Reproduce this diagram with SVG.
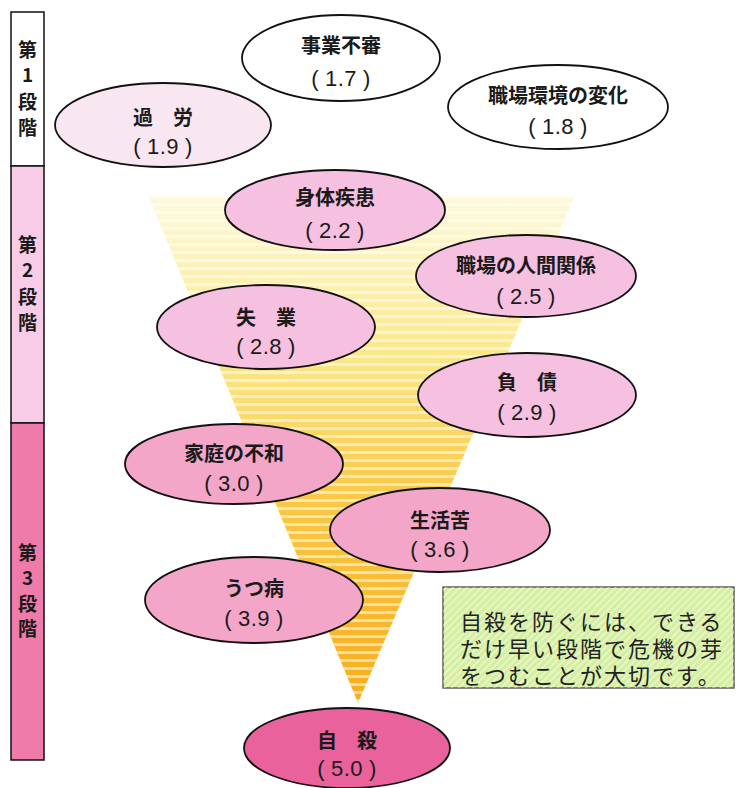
<svg xmlns="http://www.w3.org/2000/svg" width="738" height="788" viewBox="0 0 738 788">
<style>
.t{font-family:"Noto Sans CJK JP","Noto Sans",sans-serif;text-anchor:middle;fill:#1a1a1a}
.lb{font-size:20px;font-weight:700}
.nm{font-family:"Liberation Sans",Arial,sans-serif;font-size:22px;font-weight:400;letter-spacing:0.5px}
.st{font-size:19px;font-weight:700}
.bx{font-family:"Noto Sans CJK JP","Noto Sans",sans-serif;font-size:22px;letter-spacing:2px;fill:#222}
.el{stroke:#111;stroke-width:1.8}
.w{fill:#ffffff}
.p0{fill:#f8e6f1}
.p1{fill:#f6c0e0}
.p2{fill:#f4a6c9}
.p3{fill:#e9629c}
</style>
<defs>
<linearGradient id="fg" x1="0" y1="195" x2="0" y2="703" gradientUnits="userSpaceOnUse">
<stop offset="0" stop-color="#fef9df"/>
<stop offset="0.3" stop-color="#fce88e"/>
<stop offset="0.6" stop-color="#f9c845"/>
<stop offset="1" stop-color="#f6ad1e"/>
</linearGradient>
<pattern id="stripes" x="0" y="195" width="20" height="8" patternUnits="userSpaceOnUse">
<rect x="0" y="0" width="20" height="3" fill="#ffffff" fill-opacity="0.55"/>
</pattern>
<pattern id="hatch" width="5" height="5" patternUnits="userSpaceOnUse" patternTransform="rotate(45)">
<rect x="0" y="0" width="1.4" height="5" fill="#ffffff" fill-opacity="0.55"/>
</pattern>
</defs>

<g id="stage-bar">
<rect x="11" y="12" width="33" height="154" fill="#ffffff" stroke="#111" stroke-width="1.5"/>
<rect x="11" y="166" width="33" height="257" fill="#f8cbe7" stroke="#111" stroke-width="1.5"/>
<rect x="11" y="423" width="33" height="337" fill="#ee7ba9" stroke="#111" stroke-width="1.5"/>
<text class="t st" x="27.5" y="57">第</text>
<text class="t st" x="27.5" y="82">1</text>
<text class="t st" x="27.5" y="109">段</text>
<text class="t st" x="27.5" y="135">階</text>
<text class="t st" x="27.5" y="252">第</text>
<text class="t st" x="27.5" y="277">2</text>
<text class="t st" x="27.5" y="304">段</text>
<text class="t st" x="27.5" y="330">階</text>
<text class="t st" x="27.5" y="560">第</text>
<text class="t st" x="27.5" y="585">3</text>
<text class="t st" x="27.5" y="611">段</text>
<text class="t st" x="27.5" y="636">階</text>
</g>

<g id="funnel">
<polygon points="148,195 575,195 358,703" fill="url(#fg)"/>
<polygon points="148,195 575,195 358,703" fill="url(#stripes)"/>
</g>

<g id="connectors"></g>

<g id="n-jigyo">
<ellipse class="el w" cx="341" cy="58" rx="99" ry="43"/>
<text class="t lb" x="341" y="53">事業不審</text>
<text class="t nm" x="341" y="86">(<tspan dx="6">1.7</tspan><tspan dx="6">)</tspan></text>
</g>
<g id="n-shokuba-kankyo">
<ellipse class="el w" cx="558" cy="107" rx="110" ry="42"/>
<text class="t lb" x="558" y="103">職場環境の変化</text>
<text class="t nm" x="558" y="134">(<tspan dx="6">1.8</tspan><tspan dx="6">)</tspan></text>
</g>
<g id="n-karo">
<ellipse class="el p0" cx="163" cy="125" rx="108" ry="42"/>
<text class="t lb" x="163" y="125">過　労</text>
<text class="t nm" x="163" y="154">(<tspan dx="6">1.9</tspan><tspan dx="6">)</tspan></text>
</g>
<g id="n-shintai">
<ellipse class="el p1" cx="335" cy="210" rx="110" ry="40"/>
<text class="t lb" x="335" y="205">身体疾患</text>
<text class="t nm" x="335" y="238">(<tspan dx="6">2.2</tspan><tspan dx="6">)</tspan></text>
</g>
<g id="n-ningen">
<ellipse class="el p1" cx="526" cy="276" rx="110" ry="41"/>
<text class="t lb" x="526" y="273">職場の人間関係</text>
<text class="t nm" x="526" y="304">(<tspan dx="6">2.5</tspan><tspan dx="6">)</tspan></text>
</g>
<g id="n-shitsugyo">
<ellipse class="el p1" cx="266" cy="327" rx="109" ry="42"/>
<text class="t lb" x="266" y="325">失　業</text>
<text class="t nm" x="266" y="354">(<tspan dx="6">2.8</tspan><tspan dx="6">)</tspan></text>
</g>
<g id="n-fusai">
<ellipse class="el p1" cx="527" cy="395" rx="109" ry="42"/>
<text class="t lb" x="527" y="390">負　債</text>
<text class="t nm" x="527" y="420">(<tspan dx="6">2.9</tspan><tspan dx="6">)</tspan></text>
</g>
<g id="n-katei">
<ellipse class="el p2" cx="234" cy="464" rx="109" ry="40"/>
<text class="t lb" x="234" y="461">家庭の不和</text>
<text class="t nm" x="234" y="491">(<tspan dx="6">3.0</tspan><tspan dx="6">)</tspan></text>
</g>
<g id="n-seikatsu">
<ellipse class="el p2" cx="440" cy="530" rx="110" ry="42"/>
<text class="t lb" x="440" y="528">生活苦</text>
<text class="t nm" x="440" y="557">(<tspan dx="6">3.6</tspan><tspan dx="6">)</tspan></text>
</g>
<g id="n-utsu">
<ellipse class="el p2" cx="254" cy="600" rx="109" ry="43"/>
<text class="t lb" x="254" y="596">うつ病</text>
<text class="t nm" x="254" y="626">(<tspan dx="6">3.9</tspan><tspan dx="6">)</tspan></text>
</g>
<g id="n-jisatsu">
<ellipse class="el p3" cx="347" cy="748" rx="103" ry="40"/>
<text class="t lb" x="347" y="748">自　殺</text>
<text class="t nm" x="347" y="776">(<tspan dx="6">5.0</tspan><tspan dx="6">)</tspan></text>
</g>

<g id="note">
<rect x="443" y="587" width="291" height="101" fill="#d5efa0" stroke="#444" stroke-width="1.3"/>
<rect x="443" y="587" width="291" height="101" fill="url(#hatch)"/>
<text class="bx" x="460" y="630">自殺を防ぐには、できる</text>
<text class="bx" x="460" y="657">だけ早い段階で危機の芽</text>
<text class="bx" x="460" y="684">をつむことが大切です。</text>
</g>
</svg>
